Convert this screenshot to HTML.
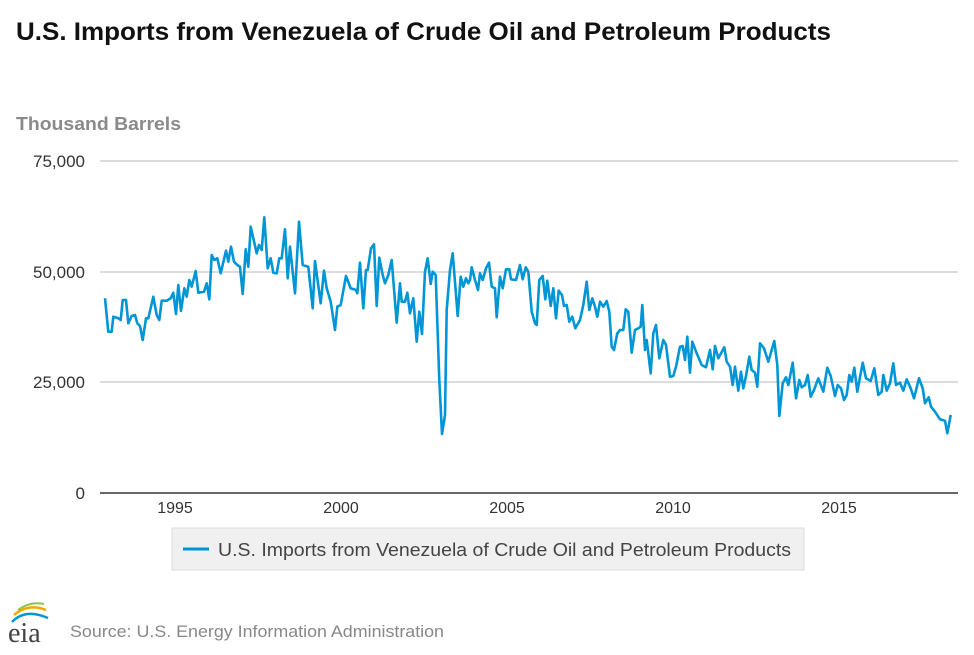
<!DOCTYPE html>
<html><head><meta charset="utf-8"><style>
body{margin:0;background:#fff;width:974px;height:650px;overflow:hidden;font-family:"Liberation Sans",Arial,sans-serif}
</style></head><body>
<svg id="s" width="974" height="650" xmlns="http://www.w3.org/2000/svg" font-family="Liberation Sans, Arial, sans-serif">
<text x="16" y="40" font-size="25" font-weight="bold" fill="#111" textLength="815" lengthAdjust="spacingAndGlyphs">U.S. Imports from Venezuela of Crude Oil and Petroleum Products</text>
<text x="16" y="130" font-size="18" font-weight="bold" fill="#8a8a8a" textLength="165" lengthAdjust="spacingAndGlyphs">Thousand Barrels</text>
<g stroke="#c8c8c8" stroke-width="1.3">
<line x1="100" y1="161" x2="958" y2="161"/><line x1="100" y1="272" x2="958" y2="272"/><line x1="100" y1="382" x2="958" y2="382"/>
</g>
<line x1="100" y1="493" x2="958" y2="493" stroke="#333" stroke-width="1.5"/>
<g font-size="17" fill="#333" text-anchor="end">
<text x="85" y="167">75,000</text><text x="85" y="278">50,000</text><text x="85" y="388">25,000</text><text x="85" y="499">0</text>
</g>
<g font-size="16" fill="#333" text-anchor="middle">
<text x="175" y="513">1995</text><text x="341" y="513">2000</text><text x="507" y="513">2005</text><text x="673" y="513">2010</text><text x="839" y="513">2015</text>
</g>
<polyline id="ln" fill="none" stroke="#0096d6" stroke-width="2.6" stroke-linejoin="round"/>
<rect x="172" y="528" width="632" height="42" fill="#f0f0f0" stroke="#dcdcdc"/>
<line x1="183" y1="549" x2="209" y2="549" stroke="#0096d6" stroke-width="3"/>
<text x="218" y="556" font-size="18" fill="#444" textLength="573" lengthAdjust="spacingAndGlyphs">U.S. Imports from Venezuela of Crude Oil and Petroleum Products</text>
<text x="8" y="642" font-size="28" fill="#444" font-family="Liberation Serif, serif">eia</text>
<path d="M12 622 Q25 608 48 618" stroke="#0096d6" stroke-width="2.5" fill="none"/>
<path d="M14 615 Q28 603 46 610" stroke="#f2a900" stroke-width="2.5" fill="none"/>
<path d="M18 610 Q30 601 44 604" stroke="#8cc63f" stroke-width="2" fill="none"/>
<text x="70" y="637" font-size="17" fill="#888" textLength="374" lengthAdjust="spacingAndGlyphs">Source: U.S. Energy Information Administration</text>
</svg>
<script>
var z1=[[15,295],[25,395],[35,395],[40,350],[55,355],[62,360],[68,300],[78,300],[85,370],[95,348],[105,345],[112,370],[120,378],[128,420],[138,355],[145,355],[160,290],[170,345],[178,360],[185,302],[200,302],[212,295],[220,278],[228,342],[235,255],[243,333],[253,265],[260,290],[268,240],[275,260],[287,213],[295,278],[312,275],[320,250],[328,298],[335,165],[343,180],[352,175],[362,220],[378,152],[385,185],[393,140],[402,185],[412,195],[420,200],[428,282],[437,148],[445,200],[452,80],[470,160],[477,135],[485,150],[493,52],[503,205],[512,175],[520,218],[530,220],[538,175],[545,175],[555,88],[563,235],[570,140],[585,280],[597,65],[608,195],[625,200],[638,325],[645,183],[662,310],[672,212],[680,265],[692,305],[705,390],[712,320],[722,315],[738,228],[752,265],[768,270],[772,280],[780,188],[790,325],[798,210],[803,210],[813,145],[822,133],[830,318],[838,173],[848,225],[855,250],[865,225],[875,180],[890,368],[900,250]];
var z2=[[65,215],[75,215],[82,188],[90,250],[100,205],[110,335],[118,245],[126,312],[135,125],[143,85],[152,162],[158,125],[167,135],[178,450],[186,612],[195,555],[200,240],[210,120],[218,70],[233,258],[242,140],[250,170],[258,145],[265,160],[270,150],[275,112],[285,150],[294,180],[300,130],[308,150],[318,115],[327,98],[335,170],[345,175],[350,262],[360,140],[368,175],[378,118],[388,118],[393,148],[408,150],[420,105],[428,148],[437,112],[445,125],[455,245],[465,280],[470,285],[478,150],[488,138],[496,208],[502,152],[512,228],[520,175],[528,265],[536,182],[546,195],[552,228],[560,225],[568,275],[577,260],[586,295],[600,270],[610,225],[620,155],[628,240],[637,205],[645,230],[652,260],[660,215],[670,230],[680,213],[688,245],[695,350],[702,360],[712,310],[720,300],[730,300],[737,238],[745,245],[755,368],[765,300],[775,295],[782,290],[787,225],[795,360],[800,330],[812,430],[820,310],[828,285],[838,385],[850,330],[858,345],[870,440],[880,438],[888,410],[900,350]];
var z3=[[68,228],[75,270],[82,200],[90,308],[97,215],[110,250],[125,285],[138,292],[150,240],[158,298],[165,228],[175,265],[183,250],[193,232],[200,275],[210,290],[218,345],[225,290],[235,362],[243,305],[250,355],[258,318],[268,260],[275,300],[285,308],[292,350],[300,220],[312,235],[325,275],[343,213],[352,285],[358,438],[368,340],[378,322],[385,345],[398,278],[408,385],[418,330],[425,352],[435,345],[443,315],[452,380],[462,360],[475,325],[490,365],[502,293],[512,318],[525,378],[533,345],[543,355],[552,390],[560,375],[568,315],[575,335],[583,293],[592,365],[608,278],[618,325],[632,333],[643,295],[655,375],[665,365],[670,315],[680,362],[690,340],[700,280],[708,345],[720,338],[730,362],[740,328],[752,355],[762,385],[777,325],[788,355],[795,400],[806,382],[813,410],[825,425],[840,448],[855,452],[862,490],[872,435]];
var p=[];
z1.forEach(function(a){p.push((100+a[0]/3).toFixed(1)+","+(200+a[1]/3).toFixed(1))});
z2.forEach(function(a){p.push((380+a[0]/3).toFixed(1)+","+(230+a[1]/3).toFixed(1))});
z3.forEach(function(a){p.push((660+a[0]/3).toFixed(1)+","+(270+a[1]/3).toFixed(1))});
document.getElementById("ln").setAttribute("points",p.join(" "));
</script>
</body></html>
